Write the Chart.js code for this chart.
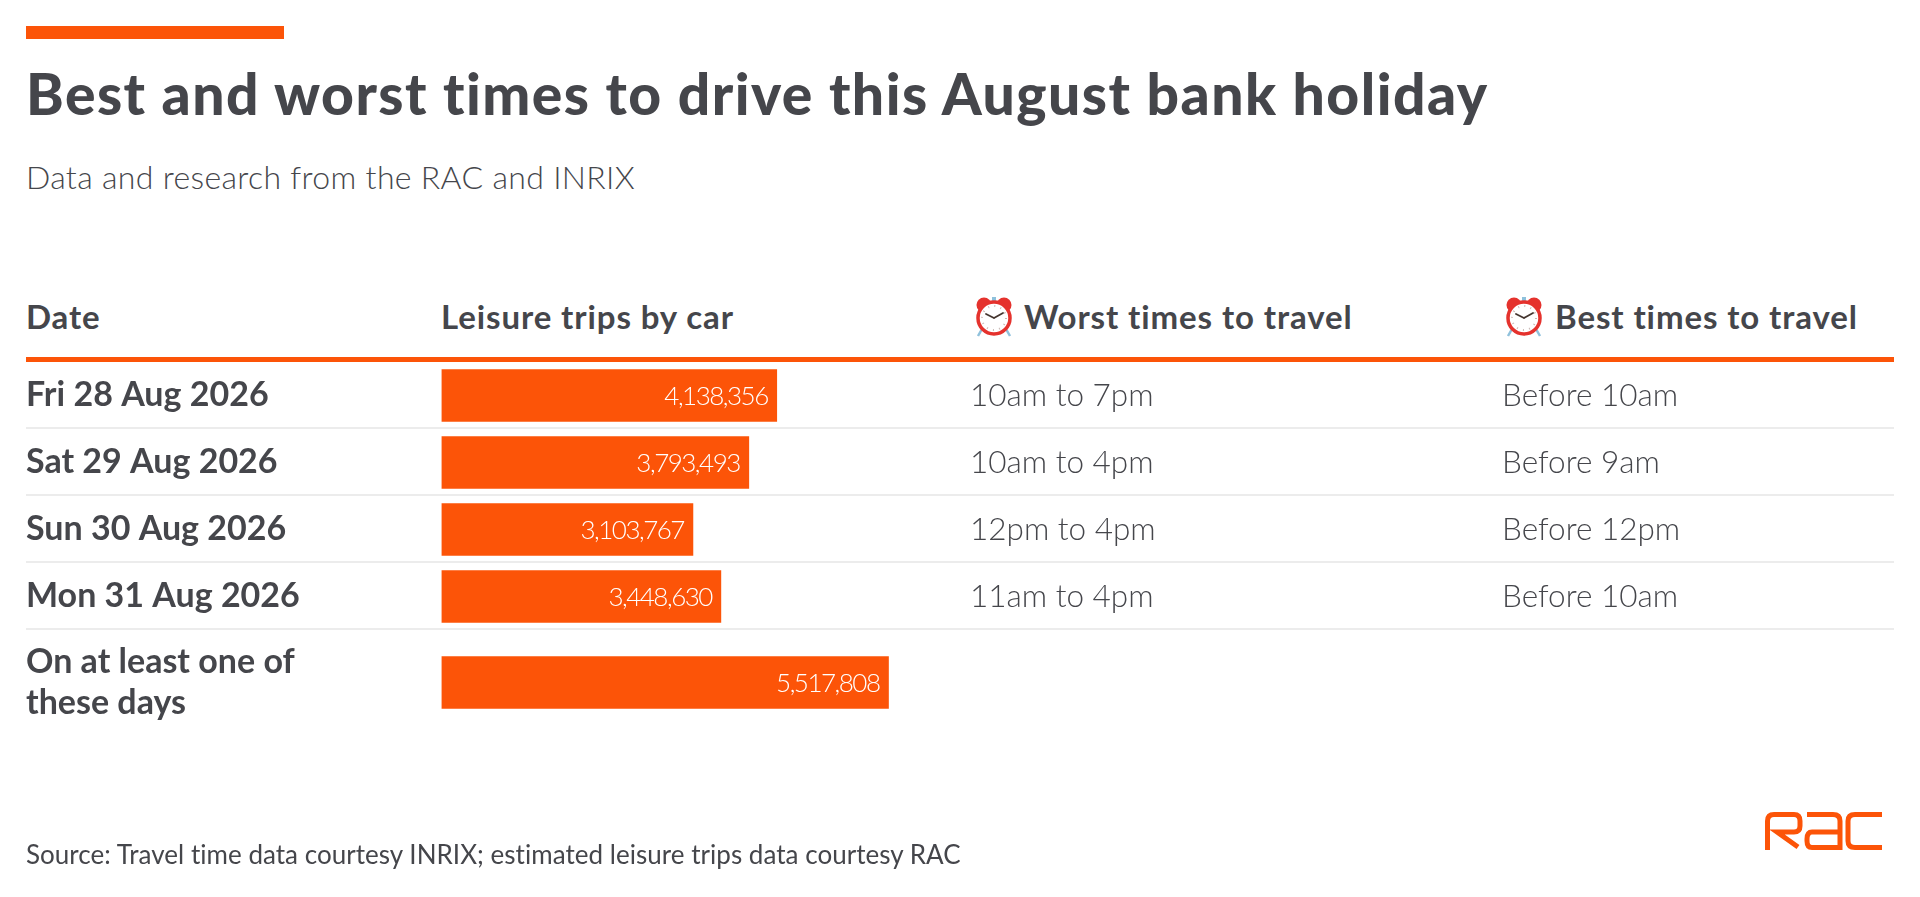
<!DOCTYPE html>
<html><head><meta charset="utf-8">
<style>
html,body{margin:0;padding:0;background:#fff;width:1920px;height:897px;overflow:hidden}
body{font-family:Lato,sans-serif;color:#45464b;position:relative}
.t{position:absolute;white-space:nowrap;line-height:1}
.h{top:300px;font-size:33px;font-weight:700;letter-spacing:.9px}
canvas{position:absolute;left:0}
#bar{position:absolute;left:26px;top:26px;width:258px;height:13px;background:#fc5408}
#rule{position:absolute;left:26px;top:357px;width:1868px;height:5px;background:#fc5408}
svg{position:absolute}
</style></head><body>
<div id="bar"></div>
<div class="t" id="title" style="left:26px;top:65px;font-size:57px;font-weight:900;letter-spacing:1.47px">Best and worst times to drive this August bank holiday</div>
<div class="t" id="sub" style="left:26px;top:161px;font-size:32px;font-weight:300;letter-spacing:.33px">Data and research from the RAC and INRIX</div>
<div class="t h" style="left:26px">Date</div>
<div class="t h" style="left:441px">Leisure trips by car</div>
<div class="t h" style="left:1024px">Worst times to travel</div>
<div class="t h" style="left:1555px">Best times to travel</div>
<div id="rule"></div>
<svg width="0" height="0" style="position:absolute"><defs>
<g id="clock">
<circle cx="9" cy="9" r="7.5" fill="#e5322d"/><circle cx="29" cy="9" r="7.5" fill="#e5322d"/>
<rect x="17" y="1" width="4" height="6" fill="#8fc1dc"/>
<path d="M7 33 L3 40 M31 33 L35 40" stroke="#8fc1dc" stroke-width="2.5" fill="none"/>
<circle cx="19" cy="22" r="16" fill="#fff" stroke="#e5322d" stroke-width="3.5"/>
<circle cx="19" cy="22" r="12" fill="none" stroke="#c9b9b5" stroke-width="2" stroke-dasharray="1 5.28"/>
<path d="M19 22 L11 18 M19 22 L28 17" stroke="#45362f" stroke-width="1.8" fill="none" stroke-linecap="round"/>
</g></defs></svg>
<svg style="left:975px;top:296px" width="38" height="41" viewBox="0 0 38 41"><use href="#clock"/></svg>
<svg style="left:1505px;top:296px" width="38" height="41" viewBox="0 0 38 41"><use href="#clock"/></svg>
<canvas id="rows" width="1920" height="897" style="top:0"></canvas>
<canvas id="total" width="1920" height="240" style="top:570px"></canvas>
<div class="t" id="src" style="left:26px;top:841px;font-size:26px;font-weight:400;letter-spacing:.03px">Source: Travel time data courtesy INRIX; estimated leisure trips data courtesy RAC</div>
<svg style="left:1765px;top:812px" width="117" height="38" viewBox="0 0 117 38">
<g fill="none" stroke="#fc5408" stroke-width="5">
<path d="M2.5 38 V9 Q2.5 2.5 9 2.5 H29 Q35 2.5 35 9 V14 Q35 20 29 20 H12 L33 35"/>
<path d="M42 2.5 H68 Q75 2.5 75 9 V38 M75 20 H47 Q42 20 42 27 V29 Q42 35.5 47 35.5 H75"/>
<path d="M117 2.5 H90 Q83 2.5 83 9 V29 Q83 35.5 90 35.5 H117"/>
</g></svg>
<script src="https://cdn.jsdelivr.net/npm/chart.js@4/dist/chart.umd.min.js"></script>
<script>
const dates = ["Fri 28 Aug 2026","Sat 29 Aug 2026","Sun 30 Aug 2026","Mon 31 Aug 2026"];
const trips = [4138356,3793493,3103767,3448630];
const worstTimes = ["10am to 7pm","10am to 4pm","12pm to 4pm","11am to 4pm"];
const bestTimes = ["Before 10am","Before 9am","Before 12pm","Before 10am"];
const totalLabel = [["On at least one of","these days"]];
const totalTrips = [5517808];

const INK="#45464b", ORANGE="#fc5408", AXIS_MAX=17930000, LEFT=26, RIGHT=26, PLOT_LEFT=441.5;
const WORST_X=970, BEST_X=1502;
const fmt=v=>v.toLocaleString("en-GB");

const rowText={id:"rowText",
 beforeDatasetsDraw(c){
  const y=c.scales.y,ctx=c.ctx;
  if(!c.options.plugins.rowText.lines) return;
  ctx.save();ctx.strokeStyle="#ececec";ctx.lineWidth=2;
  y.ticks.forEach((t,i)=>{
    const p=y.getPixelForTick(i)+(y.getPixelForTick(1)-y.getPixelForTick(0))/2-1;
    ctx.beginPath();ctx.moveTo(LEFT,p);ctx.lineTo(c.width-RIGHT,p);ctx.stroke();});
  ctx.restore();
 },
 afterDatasetsDraw(c){
  const ctx=c.ctx,meta=c.getDatasetMeta(0),opt=c.options.plugins.rowText;
  ctx.save();ctx.textBaseline="middle";
  meta.data.forEach((b,i)=>{
    ctx.font="300 26px Lato";ctx.fillStyle="#fff";ctx.textAlign="right";
    ctx.letterSpacing="-1.5px";
    ctx.fillText(fmt(c.data.datasets[0].data[i]),b.x-9,b.y+1);
    ctx.letterSpacing="0px";
    if(opt.lines){
      ctx.font="300 31.5px Lato";ctx.fillStyle=INK;ctx.textAlign="left";
      ctx.fillText(worstTimes[i],WORST_X,b.y);
      ctx.fillText(bestTimes[i],BEST_X,b.y);
    }
  });
  ctx.restore();
 }};

function build(id,labels,values,lines,pad){
 return new Chart(document.getElementById(id),{
  type:"bar",
  data:{labels,datasets:[{data:values,backgroundColor:ORANGE,barThickness:52,borderWidth:0}]},
  plugins:[rowText],
  options:{indexAxis:"y",responsive:false,animation:false,devicePixelRatio:1,
   layout:{padding:pad},
   plugins:{legend:{display:false},tooltip:{enabled:false},title:{display:false},rowText:{lines}},
   scales:{
    x:{display:false,min:0,max:AXIS_MAX},
    y:{type:"category",afterFit(s){s.width=PLOT_LEFT-LEFT;},
       grid:{display:false},border:{display:false},
       ticks:{color:INK,font:{family:"Lato",size:34,weight:"700",lineHeight:1.18},crossAlign:"far",padding:0,autoSkip:false}}
   }}});
}
build("rows",dates,trips,true,{left:LEFT,right:RIGHT,top:362,bottom:897-630});
build("total",totalLabel,totalTrips,false,{left:LEFT,right:RIGHT,top:60,bottom:75});
</script>
</body></html>
